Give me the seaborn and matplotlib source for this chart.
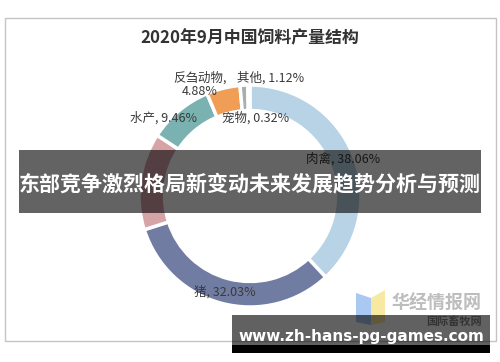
import matplotlib
matplotlib.use("Agg")
import matplotlib.pyplot as plt
import matplotlib.patches as mpatches
import seaborn as sns

# 2020年9月中国饲料产量结构 (%)
categories = ['肉禽', '猪', '蛋禽', '水产', '反刍动物', '其他', '宠物']
shares = [38.06, 32.03, 14.13, 9.46, 4.88, 1.12, 0.32]
colors = ['#b7d3e5', '#707ca2', '#d6a4a7', '#7ab2b1', '#f09e56', '#a9adad', '#bfd8e8']

# label text and where it sits (pixel coords of the picture)
label_texts = ['肉禽, 38.06%', '猪, 32.03%', '', '水产, 9.46%', '反刍动物,\n4.88%', '其他, 1.12%', '宠物, 0.32%']
label_pos = [(343, 159), (225, 292), (150, 175), (164, 118), (200, 85), (271, 78), (256, 118)]

title = '2020年9月中国饲料产量结构'
banner = '东部竞争激烈格局新变动未来发展趋势分析与预测'
url = 'www.zh-hans-pg-games.com'

sns.set_theme(style='white')
plt.rcParams['font.family'] = ['Noto Sans CJK SC', 'DejaVu Sans']

W, H = 500, 362
fig = plt.figure(figsize=(W / 100, H / 100), dpi=100)
fig.patch.set_facecolor('white')

# background layer: frame and title
bg = fig.add_axes([0, 0, 1, 1], zorder=0)
bg.set_xlim(0, W)
bg.set_ylim(H, 0)
bg.axis('off')
bg.add_patch(mpatches.Rectangle((5, 18), 491, 323, fill=False, ec='#c4c4c4', lw=1))
bg.text(250, 38, title, ha='center', va='center', fontsize=12.2,
        fontweight='bold', color='#333333')

# donut
cx, cy, r = 250, 196, 111
pie_ax = fig.add_axes([(cx - r) / W, (H - cy - r) / H, 2 * r / W, 2 * r / H], zorder=1)
pie_ax.patch.set_alpha(0)
pie_ax.pie(shares, colors=colors, startangle=90, counterclock=False,
           wedgeprops=dict(width=0.23, edgecolor='white', linewidth=2.5))
pie_ax.set_xlim(-1, 1)
pie_ax.set_ylim(-1, 1)
pie_ax.axis('off')

# labels layer (still under the banners)
lab = fig.add_axes([0, 0, 1, 1], zorder=2)
lab.patch.set_alpha(0)
lab.set_xlim(0, W)
lab.set_ylim(H, 0)
lab.axis('off')
for txt, (x, y) in zip(label_texts, label_pos):
    lab.text(x, y, txt, ha='center', va='center', fontsize=9,
             color='#3a3a3a', linespacing=1.05)

# watermark
lab.add_patch(mpatches.Polygon([(356, 293), (371, 298), (371, 325), (356, 322)],
                               closed=True, color='#a9c9f2', lw=0))
lab.add_patch(mpatches.Polygon([(371, 298), (385, 290), (385, 322), (371, 325)],
                               closed=True, color='#f8e9a2', lw=0))
lab.text(437, 303, '华经情报网', ha='center', va='center', fontsize=13,
         fontweight='bold', color='#bdbdbd')
lab.text(454, 321, '国际畜牧网', ha='center', va='center', fontsize=8,
         fontweight='bold', color='#8a8a8a')

# overlay banners
top = fig.add_axes([0, 0, 1, 1], zorder=3)
top.patch.set_alpha(0)
top.set_xlim(0, W)
top.set_ylim(H, 0)
top.axis('off')
top.add_patch(mpatches.Rectangle((19, 150), 462, 63, color='black', alpha=0.61, lw=0))
top.text(250, 184, banner, ha='center', va='center', fontsize=15.1,
         fontweight='bold', color='white')
top.add_patch(mpatches.Rectangle((232, 315), 258, 30, color='black', alpha=0.62, lw=0))
top.add_patch(mpatches.Rectangle((232, 345), 258, 8, color='black', lw=0))
top.text(361, 337, url, ha='center', va='center', fontsize=11,
         fontweight='bold', color='white', family='DejaVu Sans')

fig.savefig('out.png', dpi=100)
